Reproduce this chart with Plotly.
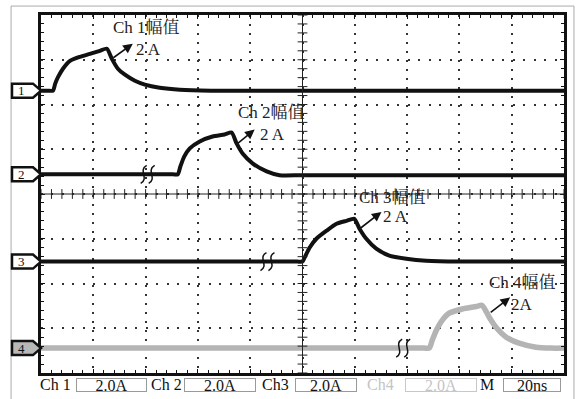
import plotly.graph_objects as go

# ---------------- data (time in ns, current in A) ----------------
ch1_t = [0, 2.5, 4.6, 5.4, 6.5, 8.4, 11.1, 14.9, 18.7, 22.5, 25.2, 27.1, 29.4, 32.1, 35.9, 39.7, 45.4, 53.1, 65, 200]
ch1_i = [0, 0, 0, 0.30, 0.60, 0.98, 1.33, 1.51, 1.64, 1.78, 1.87, 1.42, 0.98, 0.71, 0.44, 0.27, 0.13, 0.04, 0, 0]

ch2_t = [0, 45, 50.5, 52.3, 53.3, 54.8, 56.9, 60.7, 65.6, 70.2, 72.9, 74.8, 77.1, 80.9, 86.3, 91.2, 100, 200]
ch2_i = [0, 0, 0, 0, 0.35, 0.80, 1.16, 1.47, 1.69, 1.78, 1.87, 1.38, 0.93, 0.49, 0.13, -0.04, -0.04, -0.04]

ch3_t = [0, 92, 98, 100.0, 100.8, 102.7, 105.3, 109.2, 113.0, 116.8, 119.8, 121.8, 124.4, 128.2, 133.2, 139.7, 147.3, 160, 200]
ch3_i = [0, 0, 0, 0, 0.18, 0.62, 1.02, 1.38, 1.69, 1.82, 1.91, 1.47, 1.02, 0.58, 0.27, 0.13, 0.04, 0, 0]

ch4_t = [0, 140, 146.5, 148.5, 149.6, 151.2, 153.4, 156.1, 161.1, 166.4, 168.7, 171.4, 174.0, 177.9, 182.8, 189.3, 195, 200]
ch4_i = [0, 0, 0, 0, 0.35, 0.80, 1.24, 1.56, 1.75, 1.86, 1.91, 1.38, 0.93, 0.49, 0.22, 0.04, 0, 0]

channel_names = ["1", "2", "3", "4"]
channel_offsets = [6.31, 4.44, 2.49, 0.556]      # ground markers, in divisions
channel_colors = ["#111111", "#111111", "#111111", "#b4b4b4"]
amps_per_div = 2.0
time_per_div = 20  # ns

# break marks (time ns, channel index)
break_t = [40.8, 86.6, 138.5]
break_ch = [1, 2, 3]

# amplitude labels
label_text = ["Ch 1幅值", "Ch 2幅值", "Ch 3幅值", "Ch 4幅值"]
label_t = [40.5, 88.2, 134.5, 184.0]
label_y = [7.71, 5.82, 3.93, 2.02]
amp_text = ["2 A", "2 A", "2 A", "2A"]
amp_t = [41.0, 88.5, 135.5, 184.0]
amp_y = [7.22, 5.34, 3.49, 1.54]
arrow_from_t = [27.1, 74.8, 121.8, 171.4]
arrow_from_y = [7.02, 5.11, 3.22, 1.33]
arrow_to_t = [35.1, 81.7, 130.2, 179.4]
arrow_to_y = [7.36, 5.44, 3.60, 1.69]

# bottom status bar
status_labels = ["Ch 1", "Ch 2", "Ch3", "Ch4", "M"]
status_values = ["2.0A", "2.0A", "2.0A", "2.0A", "20ns"]
status_active = [True, True, True, False, True]

W, H = 579, 399
L, R, T, B = 41, 14, 13, 26
PW, PH = W - L - R, H - T - B

SERIF = "Liberation Serif, Noto Serif CJK SC, Noto Sans CJK SC, serif"

fig = go.Figure()

series = [(ch1_t, ch1_i), (ch2_t, ch2_i), (ch3_t, ch3_i), (ch4_t, ch4_i)]
for k, (tt, ii) in enumerate(series):
    yy = [channel_offsets[k] + v / amps_per_div for v in ii]
    fig.add_trace(go.Scatter(
        x=tt, y=yy, mode="lines",
        line=dict(color=channel_colors[k], width=4 if k < 3 else 5.5, shape="spline", smoothing=0.6),
        hoverinfo="skip", showlegend=False))

# centre crosshair with minor ticks
minor_t = [i * time_per_div / 5 for i in range(51)]
minor_y = [i / 5 for i in range(41)]
fig.add_trace(go.Scatter(x=minor_t, y=[4] * len(minor_t), mode="markers",
                         marker=dict(symbol="line-ns", size=7, line=dict(width=1, color="#222")),
                         hoverinfo="skip", showlegend=False))
fig.add_trace(go.Scatter(x=[100] * len(minor_y), y=minor_y, mode="markers",
                         marker=dict(symbol="line-ew", size=7, line=dict(width=1, color="#222")),
                         hoverinfo="skip", showlegend=False))
fig.add_shape(type="line", xref="x", yref="y", x0=0, x1=200, y0=4, y1=4, line=dict(color="#222", width=1))
fig.add_shape(type="line", xref="x", yref="y", x0=100, x1=100, y0=0, y1=8, line=dict(color="#222", width=1))

# channel ground markers
for k, name in enumerate(channel_names):
    yfrac = channel_offsets[k] / 8
    fig.add_shape(type="path", xref="paper", yref="paper",
                  xsizemode="pixel", ysizemode="pixel", xanchor=0, yanchor=yfrac,
                  path="M-29,-7 L-8,-7 L0,0 L-8,7 L-29,7 Z",
                  line=dict(color="#111", width=2.5),
                  fillcolor="#b8b8b8" if k == 3 else "white")
    fig.add_annotation(xref="paper", yref="paper", x=-19.5 / PW, y=yfrac, text=name,
                       showarrow=False, xanchor="center", yanchor="middle",
                       font=dict(family=SERIF, size=13, color="#111"))

# break marks
for bt, bc in zip(break_t, break_ch):
    yfrac = channel_offsets[bc] / 8
    for dx in (-4, 4):
        fig.add_shape(type="path", xref="x", yref="paper",
                      xsizemode="pixel", ysizemode="pixel", xanchor=bt, yanchor=yfrac,
                      path=f"M{dx+3},9 C{dx-6},4 {dx+6},-4 {dx-3},-9",
                      line=dict(color="#111", width=1.5))

# amplitude labels and arrows
for k in range(4):
    fig.add_annotation(x=label_t[k], y=label_y[k], text=label_text[k], showarrow=False,
                       font=dict(family=SERIF, size=17, color="#222"))
    fig.add_annotation(x=amp_t[k], y=amp_y[k], text=amp_text[k], showarrow=False,
                       font=dict(family=SERIF, size=17, color="#222"))
    fig.add_annotation(x=arrow_to_t[k], y=arrow_to_y[k], ax=arrow_from_t[k], ay=arrow_from_y[k],
                       axref="x", ayref="y", text="", showarrow=True,
                       arrowhead=2, arrowsize=1.2, arrowwidth=1.6, arrowcolor="#111")

# status bar
lab_cx = [56, 166.5, 276, 381, 487.5]
box_x0 = [76, 184, 296, 406, 504]
box_x1 = [147, 256, 358, 478, 562]
sy = (T + PH - 385) / PH
for k in range(5):
    col = "#111" if status_active[k] else "#c4c4c4"
    fig.add_annotation(xref="paper", yref="paper", x=(lab_cx[k] - L) / PW, y=sy,
                       text=status_labels[k], showarrow=False, xanchor="center", yanchor="middle",
                       font=dict(family=SERIF, size=16, color=col))
    bw = box_x1[k] - box_x0[k]
    fig.add_annotation(xref="paper", yref="paper", x=((box_x0[k] + box_x1[k]) / 2 - L) / PW, y=sy,
                       text=status_values[k], showarrow=False, xanchor="center", yanchor="middle",
                       width=bw - 2, height=12, borderpad=0, borderwidth=1,
                       bordercolor="#9a9a9a" if status_active[k] else "#c8c8c8",
                       font=dict(family=SERIF, size=16, color=col))

# outer light border
fig.add_shape(type="rect", xref="paper", yref="paper",
              x0=(11 - L) / PW, x1=(575 - L) / PW, y0=-0.2, y1=(T + PH - 4) / PH,
              line=dict(color="#aaaaaa", width=1), fillcolor="rgba(0,0,0,0)", layer="below")

axis_common = dict(showline=True, linewidth=3, linecolor="#111", mirror="ticks",
                   ticks="inside", ticklen=4, tickwidth=1, tickcolor="#111",
                   showticklabels=False, zeroline=False, fixedrange=True)
fig.update_xaxes(range=[0, 200], dtick=time_per_div, showgrid=True, gridcolor="#333", gridwidth=1.5,
                 griddash="2px,7px",
                 minor=dict(ticks="inside", dtick=time_per_div / 5, ticklen=3, tickwidth=1, tickcolor="#111", showgrid=False),
                 **axis_common)
fig.update_yaxes(range=[0, 8], dtick=1, showgrid=True, gridcolor="#333", gridwidth=1.5,
                 griddash="2px,8.48px",
                 minor=dict(ticks="inside", dtick=0.2, ticklen=3, tickwidth=1, tickcolor="#111", showgrid=False),
                 **axis_common)

fig.update_layout(width=W, height=H, margin=dict(l=L, r=R, t=T, b=B, pad=0),
                  paper_bgcolor="white", plot_bgcolor="white", showlegend=False)

fig.write_html("out.html", config={"displayModeBar": False},
               post_script="document.body.style.margin='0';")
